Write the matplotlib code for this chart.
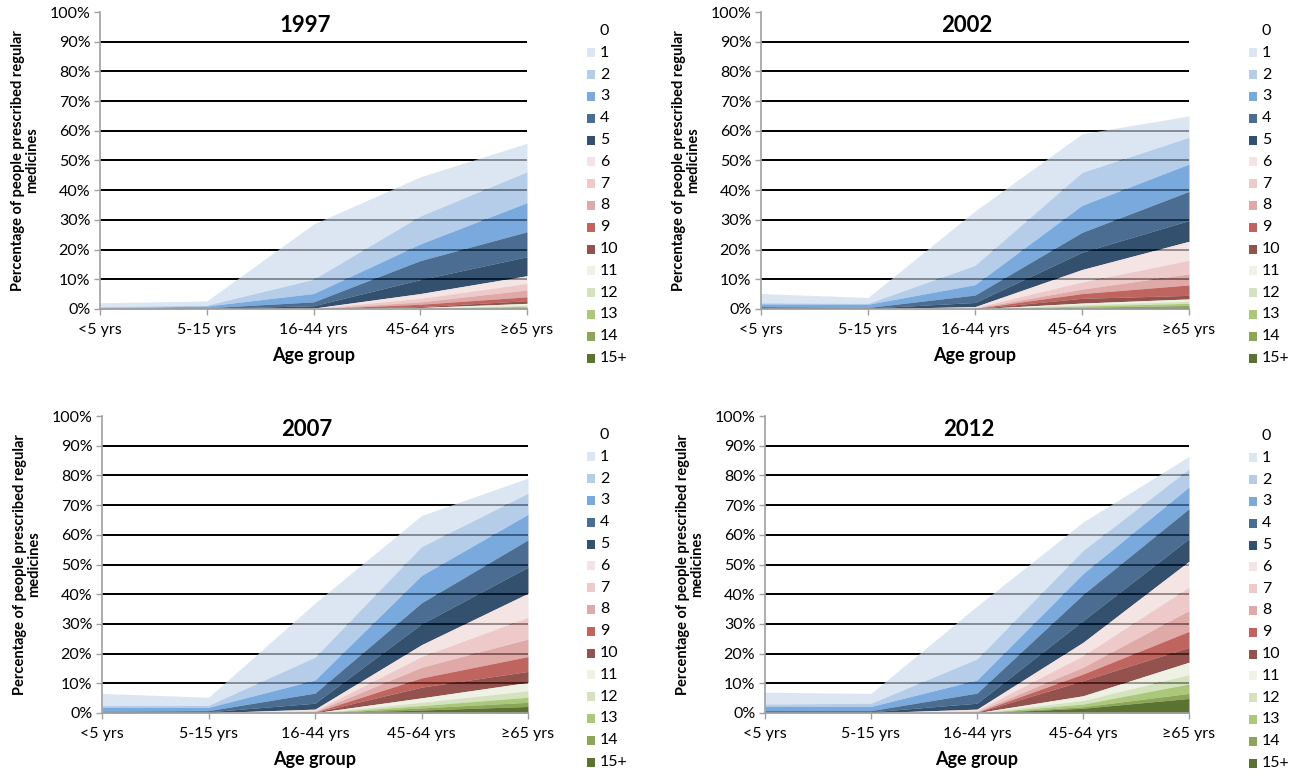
import matplotlib
matplotlib.use("Agg")
import matplotlib.pyplot as plt
from matplotlib.patches import Rectangle
from matplotlib.colors import to_rgb
import numpy as np

plt.rcParams['font.family'] = ['Lato', 'DejaVu Sans']

age_groups = ["<5 yrs", "5-15 yrs", "16-44 yrs", "45-64 yrs", "\u226565 yrs"]
levels = ["1", "2", "3", "4", "5", "6", "7", "8", "9", "10", "11", "12", "13", "14", "15+"]

# percentage of people on at least k regular medicines (k = 1..15+), per age group
atleast_1997 = [
    [2.1, 2.7, 28.6, 44.5, 55.8],
    [0.8, 1.3, 10.0, 31.3, 46.2],
    [0.4, 1.0, 5.2, 21.9, 35.8],
    [0.2, 0.4, 2.4, 16.3, 26.0],
    [0.1, 0.2, 1.1, 9.9, 17.6],
    [0.0, 0.1, 0.3, 5.2, 11.2],
    [0.0, 0.05, 0.2, 3.6, 8.6],
    [0.0, 0.0, 0.1, 2.4, 6.4],
    [0.0, 0.0, 0.05, 1.6, 4.1],
    [0.0, 0.0, 0.0, 0.8, 2.8],
    [0.0, 0.0, 0.0, 0.5, 1.9],
    [0.0, 0.0, 0.0, 0.3, 1.3],
    [0.0, 0.0, 0.0, 0.2, 0.9],
    [0.0, 0.0, 0.0, 0.1, 0.5],
    [0.0, 0.0, 0.0, 0.05, 0.3],
]
atleast_2002 = [
    [5.2, 3.9, 33.0, 59.0, 65.0],
    [2.1, 1.9, 14.7, 46.0, 57.8],
    [1.7, 1.6, 8.2, 34.9, 48.8],
    [0.8, 0.5, 4.7, 25.8, 39.6],
    [0.4, 0.3, 2.2, 19.1, 29.8],
    [0.1, 0.1, 0.8, 13.3, 22.8],
    [0.0, 0.0, 0.5, 9.1, 16.4],
    [0.0, 0.0, 0.3, 6.7, 11.8],
    [0.0, 0.0, 0.2, 5.2, 8.1],
    [0.0, 0.0, 0.1, 3.6, 4.6],
    [0.0, 0.0, 0.05, 2.0, 3.4],
    [0.0, 0.0, 0.0, 1.5, 2.6],
    [0.0, 0.0, 0.0, 1.0, 1.9],
    [0.0, 0.0, 0.0, 0.6, 1.2],
    [0.0, 0.0, 0.0, 0.3, 0.6],
]
atleast_2007 = [
    [6.6, 5.3, 37.0, 66.5, 79.1],
    [2.5, 2.6, 18.8, 56.0, 74.0],
    [1.9, 1.9, 11.1, 46.3, 66.9],
    [0.6, 0.8, 6.7, 37.1, 58.3],
    [0.3, 0.4, 3.3, 30.0, 49.1],
    [0.1, 0.1, 1.3, 23.0, 40.3],
    [0.0, 0.05, 0.8, 19.0, 32.2],
    [0.0, 0.0, 0.5, 15.4, 24.9],
    [0.0, 0.0, 0.3, 11.8, 19.0],
    [0.0, 0.0, 0.2, 8.7, 14.0],
    [0.0, 0.0, 0.1, 5.1, 10.3],
    [0.0, 0.0, 0.05, 3.6, 7.5],
    [0.0, 0.0, 0.0, 2.5, 5.3],
    [0.0, 0.0, 0.0, 1.7, 3.6],
    [0.0, 0.0, 0.0, 1.0, 2.2],
]
atleast_2012 = [
    [7.0, 6.6, 36.0, 64.3, 86.4],
    [3.0, 3.3, 18.2, 54.7, 82.2],
    [2.2, 2.2, 11.1, 46.9, 76.1],
    [0.8, 0.8, 6.7, 39.9, 68.8],
    [0.4, 0.4, 3.3, 31.1, 58.7],
    [0.1, 0.1, 1.3, 23.8, 51.1],
    [0.0, 0.05, 0.8, 19.3, 42.4],
    [0.0, 0.0, 0.5, 15.4, 34.5],
    [0.0, 0.0, 0.3, 13.1, 27.5],
    [0.0, 0.0, 0.2, 10.9, 22.1],
    [0.0, 0.0, 0.1, 5.8, 17.1],
    [0.0, 0.0, 0.05, 4.2, 12.9],
    [0.0, 0.0, 0.0, 3.0, 9.8],
    [0.0, 0.0, 0.0, 2.1, 6.6],
    [0.0, 0.0, 0.0, 1.6, 4.9],
]

level_colors = ["#dce6f3", "#b5cde9", "#7aa9dd", "#4b6d92", "#34506f",
                "#f4e4e4", "#eecaca", "#e0a9a8", "#c1645f", "#94524f",
                "#eff2e5", "#d5e2c0", "#abc779", "#8ca557", "#5a7331"]

FILL_ALPHA = 0.82
W, H = 1301, 776

fig = plt.figure(figsize=(W / 100, H / 100), dpi=100)


def fill_color(hex_col):
    # colour that, drawn with FILL_ALPHA over white, looks like hex_col
    rgb = np.array(to_rgb(hex_col))
    return tuple(np.clip((rgb - (1 - FILL_ALPHA)) / FILL_ALPHA, 0, 1))


def draw_panel(rect, year, atleast, legend_x, legend_y0, ylabel_x):
    left, top, right, bottom = rect
    ax = fig.add_axes([left / W, 1 - bottom / H, (right - left) / W, (bottom - top) / H])
    x = np.arange(len(age_groups))
    data = np.array(atleast)

    for g in range(10, 100, 10):
        ax.axhline(g, color="black", lw=1.4, zorder=1)
        # gridlines show through the areas as grey lines
        ax.axhline(g, color="black", lw=1.2, alpha=0.28, zorder=2.5)

    # stacked layers: band k lies between "at least k" and "at least k+1"
    for k in range(len(levels)):
        upper = data[k]
        lower = data[k + 1] if k + 1 < len(levels) else np.zeros(len(x))
        ax.fill_between(x, lower, upper, color=fill_color(level_colors[k]),
                        alpha=FILL_ALPHA, lw=0, zorder=2)

    ax.set_xlim(0, len(age_groups) - 1)
    ax.set_ylim(0, 100)
    ax.set_yticks(range(0, 101, 10))
    ax.set_yticklabels([f"{v}%" for v in range(0, 101, 10)], fontsize=11.5)
    ax.set_xticks(x)
    ax.set_xticklabels(age_groups, fontsize=11.5)
    ax.tick_params(axis="both", color="#a0a0a0", length=4, width=1)
    ax.tick_params(axis="x", pad=6)
    ax.tick_params(axis="y", pad=3)
    for s in ("top", "right"):
        ax.spines[s].set_visible(False)
    for s in ("left", "bottom"):
        ax.spines[s].set_color("#a0a0a0")
        ax.spines[s].set_linewidth(1.2)
        ax.spines[s].set_zorder(3)

    ax.text(0.48, 0.99, year, transform=ax.transAxes, ha="center", va="top",
            fontsize=16, fontweight="bold")
    ax.set_xlabel("Age group", fontsize=13, fontweight="bold", labelpad=7)
    fig.text(ylabel_x / W, 1 - (top + bottom) / 2 / H,
             "Percentage of people prescribed regular\nmedicines",
             rotation=90, ha="center", va="center", fontsize=10.5,
             fontweight="bold", linespacing=1.0)

    # legend: "0" has no swatch
    step = 21.8
    fig.text(legend_x / W, 1 - legend_y0 / H, "0", ha="left", va="center", fontsize=11.5)
    for k, lab in enumerate(levels):
        yy = legend_y0 + (k + 1) * step
        fig.patches.append(Rectangle(((legend_x - 13) / W, 1 - (yy + 4.5) / H), 8 / W, 9 / H,
                                     transform=fig.transFigure, facecolor=level_colors[k],
                                     edgecolor="none"))
        fig.text(legend_x / W, 1 - yy / H, lab, ha="left", va="center", fontsize=11.5)


draw_panel((100, 12, 527, 309), "1997", atleast_1997, 600, 31, 25)
draw_panel((761, 12, 1189, 309), "2002", atleast_2002, 1262, 31, 686)
draw_panel((102, 416, 528, 713), "2007", atleast_2007, 600, 435, 27)
draw_panel((765, 416, 1189, 713), "2012", atleast_2012, 1262, 436, 690)

fig.savefig("out.png", dpi=100)
